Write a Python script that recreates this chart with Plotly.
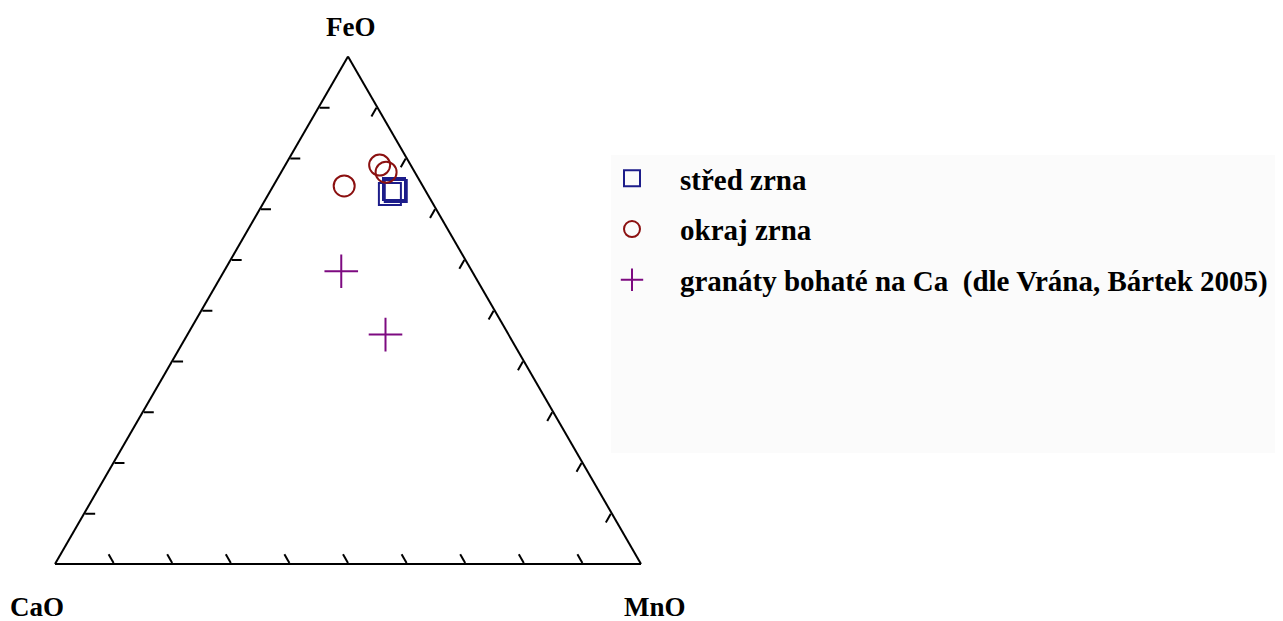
import plotly.graph_objects as go

# Ternary compositions (fractions): FeO (a, top), CaO (b, left), MnO (c, right)
stred_feo = [0.729, 0.735, 0.739]
stred_cao = [0.064, 0.051, 0.052]
stred_mno = [0.207, 0.214, 0.209]

okraj_feo = [0.745, 0.786, 0.772]
okraj_cao = [0.134, 0.053, 0.049]
okraj_mno = [0.121, 0.161, 0.179]

ca_feo = [0.577, 0.452]
ca_cao = [0.223, 0.210]
ca_mno = [0.200, 0.338]

names = ["střed zrna", "okraj zrna", "granáty bohaté na Ca \u00a0(dle Vrána, Bártek 2005)"]
axis_titles = ["FeO", "CaO", "MnO"]

# the page body has an 8px margin, so the figure is drawn 8px in from the corner
OFF = 8
W, H = 1283 - OFF, 621 - OFF
serif = "Liberation Serif, Times New Roman, serif"

fig = go.Figure()
fig.add_trace(go.Scatterternary(
    a=stred_feo, b=stred_cao, c=stred_mno, mode="markers", name=names[0], legendgroup="g1",
    marker=dict(symbol="square-open", size=22, color="#1c1c8a", line=dict(width=2, color="#1c1c8a")),
))
fig.add_trace(go.Scatterternary(
    a=okraj_feo, b=okraj_cao, c=okraj_mno, mode="markers", name=names[1], legendgroup="g2",
    marker=dict(symbol="circle-open", size=21, color="#8b1010", line=dict(width=2, color="#8b1010")),
))
fig.add_trace(go.Scatterternary(
    a=ca_feo, b=ca_cao, c=ca_mno, mode="markers", name=names[2], legendgroup="g3",
    marker=dict(symbol="cross-thin-open", size=24, color="#7d0a80", line=dict(width=2, color="#7d0a80")),
))

# triangle geometry in page px
side = 586
cx = 348 - OFF
hgt = side * 3 ** 0.5 / 2
ybot = 564 - OFF
ytop = ybot - hgt
x0, x1 = cx - side / 2, cx + side / 2

def ax():
    return dict(
        title=dict(text=""),
        min=0, linecolor="black", linewidth=2, showgrid=False,
        ticks="inside", ticklen=10, tickwidth=1.5, tickcolor="black",
        dtick=0.1, showticklabels=False,
    )

title_font = dict(family=serif, size=27, color="black", weight="bold")
title_pos = [(350, 27), (37, 607), (655, 607)]
annotations = [
    dict(text=t, x=(px - OFF) / W, y=1 - (py - OFF) / H, xref="paper", yref="paper",
         showarrow=False, xanchor="center", yanchor="middle", font=title_font)
    for t, (px, py) in zip(axis_titles, title_pos)
]

fig.update_layout(
    width=W, height=H,
    margin=dict(l=0, r=0, t=0, b=0),
    paper_bgcolor="white",
    ternary=dict(
        sum=1,
        bgcolor="white",
        domain=dict(x=[x0 / W, x1 / W], y=[(H - ybot) / H, (H - ytop) / H]),
        aaxis=ax(), baxis=ax(), caxis=ax(),
    ),
    showlegend=True,
    legend=dict(
        x=576 / W, y=1 - 145 / H, xanchor="left", yanchor="top",
        bgcolor="rgba(0,0,0,0)", tracegroupgap=10, itemwidth=86,
        font=dict(family=serif, size=29, color="black", weight="bold"),
    ),
    annotations=annotations,
    shapes=[dict(type="rect", xref="paper", yref="paper",
                 x0=(611 - OFF) / W, x1=1.0, y0=1 - (453 - OFF) / H, y1=1 - (155 - OFF) / H,
                 fillcolor="#fbfbfb", line=dict(width=0), layer="below")],
)

fig.write_html("out.html")
